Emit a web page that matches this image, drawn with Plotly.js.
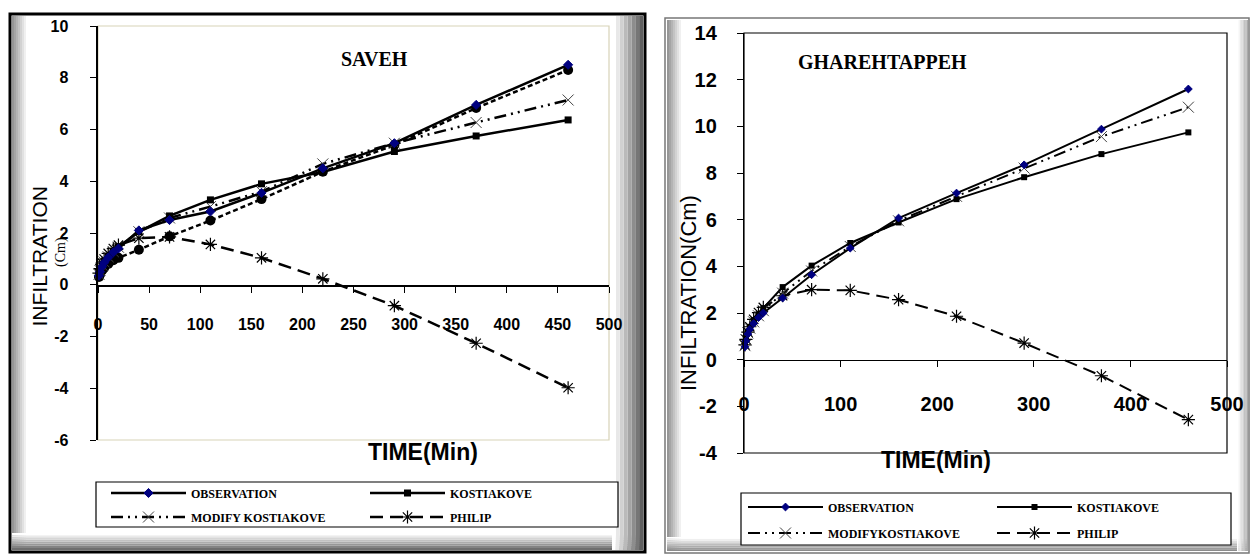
<!DOCTYPE html>
<html>
<head>
<meta charset="utf-8">
<script src="https://cdn.plot.ly/plotly-3.0.1.min.js"></script>
<style>html,body{margin:0;padding:0;background:#fff;}#chart{width:1250px;height:557px;}</style>
</head>
<body>
<div id="chart"></div>
<script>
// ---------- DATA ----------
const time = [1, 2, 4, 6, 10, 15, 20, 40, 70, 110, 160, 220, 290, 370, 460];

// SAVEH
const savehObservation = [0.35, 0.5, 0.7, 0.85, 1.05, 1.25, 1.4, 2.1, 2.5, 2.83, 3.55, 4.5, 5.47, 6.95, 8.5];
const savehKostiakove  = [0.45, 0.6, 0.78, 0.9, 1.1, 1.3, 1.47, 2.05, 2.66, 3.28, 3.9, 4.36, 5.15, 5.75, 6.37];
const savehModify      = [0.4, 0.55, 0.75, 0.88, 1.08, 1.28, 1.45, 2.05, 2.58, 3.02, 3.6, 4.67, 5.47, 6.27, 7.14];
const savehPhilip      = [0.45, 0.62, 0.84, 0.99, 1.21, 1.4, 1.53, 1.8, 1.85, 1.56, 1.04, 0.23, -0.81, -2.26, -3.98];
const savehExtra       = [0.3, 0.4, 0.55, 0.65, 0.8, 0.95, 1.04, 1.35, 1.87, 2.48, 3.31, 4.37, 5.4, 6.83, 8.3];

// GHAREHTAPPEH
const gharObservation = [0.55, 0.8, 1.1, 1.3, 1.55, 1.8, 2.0, 2.64, 3.64, 4.78, 6.07, 7.14, 8.35, 9.88, 11.6];
const gharKostiakove  = [0.65, 0.9, 1.2, 1.4, 1.7, 1.95, 2.21, 3.11, 4.03, 5.0, 5.88, 6.88, 7.82, 8.81, 9.74];
const gharModify      = [0.6, 0.85, 1.15, 1.35, 1.62, 1.88, 2.1, 2.85, 3.8, 4.85, 5.95, 7.0, 8.21, 9.56, 10.82];
const gharPhilip      = [0.63, 0.87, 1.18, 1.41, 1.73, 2.02, 2.24, 2.74, 3.0, 2.97, 2.57, 1.86, 0.71, -0.69, -2.57];

const seriesNames = ["OBSERVATION", "KOSTIAKOVE", "MODIFY KOSTIAKOVE", "PHILIP"];
const seriesNamesRight = ["OBSERVATION", "KOSTIAKOVE", "MODIFYKOSTIAKOVE", "PHILIP"];
const panelTitles = ["SAVEH", "GHAREHTAPPEH"];
const xTitle = "TIME(Min)";
const yTitleLeft = "INFILTRATION";
const yUnitLeft = "(Cm)";
const yTitleRight = "INFILTRATION(Cm)";

// tick labels
const leftXTicks = [0, 50, 100, 150, 200, 250, 300, 350, 400, 450, 500];
const leftYTicks = [-6, -4, -2, 0, 2, 4, 6, 8, 10];
const rightXTicks = [0, 100, 200, 300, 400, 500];
const rightYTicks = [-4, -2, 0, 2, 4, 6, 8, 10, 12, 14];
const tickText = arr => arr.map(v => "<b>" + String(v) + "</b>");

// ---------- helpers ----------
const W = 1250, H = 557;
const px = x => x / W;
const py = y => 1 - y / H;

const legendFont = {family: "Liberation Serif, serif", size: 12, color: "#000", weight: "bold"};

function mk(name, y, xa, ya, leg, style) {
  return Object.assign({
    type: "scatter", mode: "lines+markers", x: time, y: y, name: name,
    xaxis: xa, yaxis: ya, legend: leg, cliponaxis: false, hoverinfo: "x+y"
  }, style);
}

const sObs = {line: {color: "#000", width: 2.5}, marker: {symbol: "diamond", size: 7, color: "#000080", line: {color: "#000080", width: 1}}};
const sKos = {line: {color: "#000", width: 2.5}, marker: {symbol: "square", size: 7, color: "#000"}};
const sMod = {line: {color: "#000", width: 2.5, dash: "12px,5px,2px,5px,2px,5px"}, marker: {symbol: "x-thin-open", size: 11, color: "#444", line: {color: "#444", width: 1}}};
const sPhi = {line: {color: "#000", width: 2.5, dash: "13px,7px"}, marker: {symbol: "asterisk-open", size: 11, color: "#000", line: {color: "#000", width: 1.2}}};
const sExt = {line: {color: "#000", width: 2.5, dash: "5px,3px"}, marker: {symbol: "circle", size: 10, color: "#000"}, showlegend: false};

const rObs = {line: {color: "#000", width: 2}, marker: {symbol: "diamond", size: 6, color: "#000080", line: {color: "#000080", width: 1}}};
const rKos = {line: {color: "#000", width: 2}, marker: {symbol: "square", size: 6, color: "#000"}};
const rMod = {line: {color: "#000", width: 2, dash: "12px,5px,2px,5px,2px,5px"}, marker: {symbol: "x-thin-open", size: 11, color: "#444", line: {color: "#444", width: 1}}};
const rPhi = {line: {color: "#000", width: 2, dash: "13px,7px"}, marker: {symbol: "asterisk-open", size: 11, color: "#000", line: {color: "#000", width: 1.2}}};

const data = [
  mk("", savehExtra, "x", "y", "legend", sExt),
  mk(seriesNames[3], savehPhilip, "x", "y", "legend4", sPhi),
  mk(seriesNames[2], savehModify, "x", "y", "legend3", sMod),
  mk(seriesNames[1], savehKostiakove, "x", "y", "legend2", sKos),
  mk(seriesNames[0], savehObservation, "x", "y", "legend", sObs),
  mk(seriesNamesRight[3], gharPhilip, "x2", "y2", "legend8", rPhi),
  mk(seriesNamesRight[2], gharModify, "x2", "y2", "legend7", rMod),
  mk(seriesNamesRight[1], gharKostiakove, "x2", "y2", "legend6", rKos),
  mk(seriesNamesRight[0], gharObservation, "x2", "y2", "legend5", rObs)
];

function leg(xp, yp) {
  return {x: px(xp), y: py(yp), xanchor: "left", yanchor: "middle", bgcolor: "rgba(0,0,0,0)",
          borderwidth: 0, font: legendFont, itemwidth: 75, tracegroupgap: 0};
}

// frame gradient strips
const shapes = [];
function strip(x0, y0, x1, y1, dir, dark, light) {
  const n = 8;
  for (let i = 0; i < n; i++) {
    const t = i / (n - 1);
    const c = Math.round(dark + (light - dark) * t);
    const col = `rgb(${c},${c},${c})`;
    let a, b, c2, d;
    if (dir === "x") { const w = (x1 - x0) / n; a = x0 + i * w; b = y0; c2 = x0 + (i + 1) * w; d = y1; }
    else if (dir === "-x") { const w = (x1 - x0) / n; a = x1 - (i + 1) * w; b = y0; c2 = x1 - i * w; d = y1; }
    else if (dir === "-y") { const h = (y1 - y0) / n; a = x0; b = y1 - (i + 1) * h; c2 = x1; d = y1 - i * h; }
    else { const h = (y1 - y0) / n; a = x0; b = y0 + i * h; c2 = x1; d = y0 + (i + 1) * h; }
    shapes.push({type: "rect", xref: "paper", yref: "paper", x0: px(a), x1: px(c2), y0: py(d), y1: py(b),
                 fillcolor: col, line: {width: 0}, layer: "below"});
  }
}
// left panel
strip(12, 16, 28, 550, "x", 150, 255);
strip(12, 533, 643, 550, "-y", 110, 255);
strip(612, 16, 643, 550, "-x", 95, 255);
shapes.push({type: "rect", xref: "paper", yref: "paper", x0: px(10), x1: px(645), y0: py(552), y1: py(14),
             line: {color: "#000", width: 3}, layer: "below"});
// right panel
strip(667, 20, 683, 551, "x", 150, 255);
strip(667, 537, 1248, 551, "-y", 140, 255);
strip(1237, 20, 1248, 551, "-x", 170, 255);
shapes.push({type: "rect", xref: "paper", yref: "paper", x0: px(665), x1: px(1249), y0: py(553), y1: py(18),
             line: {color: "#777", width: 1.5}, layer: "below"});
// plot area borders
shapes.push({type: "rect", xref: "paper", yref: "paper", x0: px(98), x1: px(609), y0: py(440), y1: py(26),
             line: {color: "#d8d3b8", width: 1.2}, fillcolor: "#fff", layer: "below"});
shapes.push({type: "rect", xref: "paper", yref: "paper", x0: px(744), x1: px(1227), y0: py(453), y1: py(33),
             line: {color: "#000", width: 1.2}, fillcolor: "#fff", layer: "below"});
// legend boxes
shapes.push({type: "rect", xref: "paper", yref: "paper", x0: px(96), x1: px(618), y0: py(527), y1: py(482),
             line: {color: "#000", width: 1.2}, fillcolor: "#fff", layer: "below"});
shapes.push({type: "rect", xref: "paper", yref: "paper", x0: px(741), x1: px(1231), y0: py(545), y1: py(493),
             line: {color: "#000", width: 1.2}, fillcolor: "#fff", layer: "below"});

const tickFontL = {family: "Liberation Sans, Arial, sans-serif", size: 16, color: "#000"};
const tickFontR = {family: "Liberation Sans Narrow, Liberation Sans, Arial, sans-serif", size: 20, color: "#000"};

const layout = {
  width: W, height: H, margin: {l: 0, r: 0, t: 0, b: 0},
  paper_bgcolor: "#fff", plot_bgcolor: "rgba(0,0,0,0)",
  showlegend: true,
  xaxis: {domain: [px(98), px(609)], range: [0, 500], tickmode: "array", tickvals: leftXTicks, ticktext: tickText(leftXTicks),
          anchor: "free", position: py(285),
          showline: true, linecolor: "#000", linewidth: 1.5, ticks: "outside", ticklen: 6, tickcolor: "#000",
          showgrid: false, zeroline: false, tickfont: tickFontL, ticklabelstandoff: 18, fixedrange: true},
  yaxis: {domain: [py(440), py(26)], range: [-6, 10], tickmode: "array", tickvals: leftYTicks, ticktext: tickText(leftYTicks),
          anchor: "x",
          showline: true, linecolor: "#000", linewidth: 2.4, ticks: "outside", ticklen: 6, tickcolor: "#000",
          showgrid: false, zeroline: false, tickfont: tickFontL, ticklabelstandoff: 18, fixedrange: true},
  xaxis2: {domain: [px(744), px(1227)], range: [0, 500], tickmode: "array", tickvals: rightXTicks, ticktext: tickText(rightXTicks),
          anchor: "free", position: py(360),
          showline: true, linecolor: "#000", linewidth: 1.2, ticks: "outside", ticklen: 6, tickcolor: "#000",
          showgrid: false, zeroline: false, tickfont: tickFontR, ticklabelstandoff: 20, fixedrange: true},
  yaxis2: {domain: [py(453), py(33)], range: [-4, 14], tickmode: "array", tickvals: rightYTicks, ticktext: tickText(rightYTicks),
          anchor: "x2",
          showline: true, linecolor: "#000", linewidth: 1.2, ticks: "outside", ticklen: 6, tickcolor: "#000",
          showgrid: false, zeroline: false, tickfont: tickFontR, ticklabelstandoff: 16, fixedrange: true},
  legend: leg(106, 493), legend2: leg(365, 493), legend3: leg(106, 517), legend4: leg(365, 517),
  legend5: leg(743, 507), legend6: leg(992, 507), legend7: leg(743, 533), legend8: leg(992, 533),
  shapes: shapes,
  annotations: [
    {text: "<b>" + panelTitles[0] + "</b>", x: px(339), y: py(46), xref: "paper", yref: "paper", showarrow: false,
     font: {family: "Liberation Serif, serif", size: 20, color: "#000"}},
    {text: "<b>" + panelTitles[1] + "</b>", x: px(969), y: py(49), xref: "paper", yref: "paper", showarrow: false,
     font: {family: "Liberation Serif, serif", size: 20, color: "#000"}},
    {text: "<b>" + xTitle + "</b>", x: px(366), y: py(467), xref: "paper", yref: "paper", showarrow: false,
     font: {family: "Liberation Sans, Arial, sans-serif", size: 23, color: "#000"}},
    {text: "<b>" + xTitle + "</b>", x: px(993), y: py(475), xref: "paper", yref: "paper", showarrow: false,
     font: {family: "Liberation Sans, Arial, sans-serif", size: 23, color: "#000"}},
    {text: yTitleLeft, x: px(25), y: py(257), xref: "paper", yref: "paper", showarrow: false, textangle: -90,
     font: {family: "Liberation Sans, Arial, sans-serif", size: 21, color: "#000"}},
    {text: yUnitLeft, x: px(51), y: py(252), xref: "paper", yref: "paper", showarrow: false, textangle: -90,
     font: {family: "Liberation Serif, serif", size: 14, color: "#000"}},
    {text: yTitleRight, x: px(688), y: py(293), xref: "paper", yref: "paper", showarrow: false, textangle: -90,
     font: {family: "Liberation Sans, Arial, sans-serif", size: 22, color: "#000"}}
  ]
};

Plotly.newPlot("chart", data, layout, {staticPlot: true, displayModeBar: false});
</script>
</body>
</html>
